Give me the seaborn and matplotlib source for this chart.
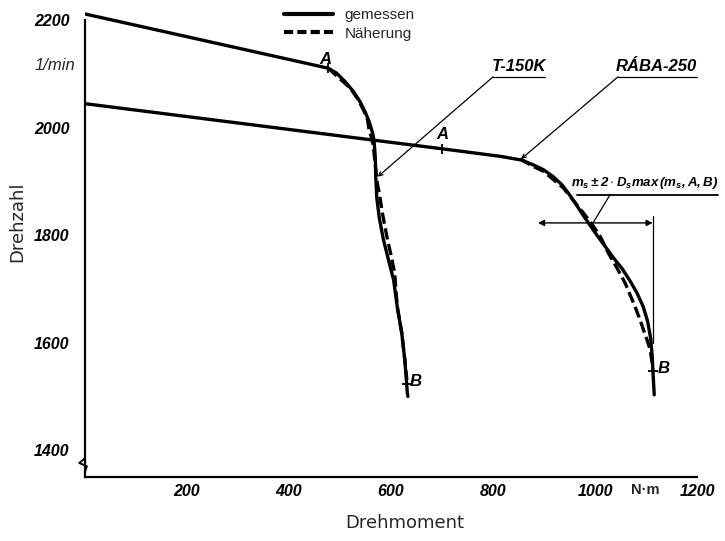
import numpy as np
import pandas as pd
import seaborn as sns
import matplotlib
matplotlib.use("Agg")
import matplotlib.pyplot as plt
from matplotlib.lines import Line2D
from matplotlib.font_manager import FontProperties

# ---------------- data ----------------
# T-150K, measured (gemessen)
t150_meas_T = [0, 477, 493, 510, 526, 539, 549, 557, 564, 567, 569, 570, 572, 577,
               585, 595, 605, 612, 621, 627, 632, 633]
t150_meas_N = [2212, 2111, 2102, 2086, 2068, 2049, 2030, 2012, 1990, 1972, 1947, 1910, 1870, 1832,
               1792, 1754, 1717, 1668, 1618, 1568, 1506, 1500]
# T-150K, approximation (Näherung)
t150_appr_T = [477, 520, 536, 546, 554, 557, 561, 565, 573, 577, 582, 588, 593, 599, 607,
               612, 621, 627, 631]
t150_appr_N = [2111, 2074, 2052, 2033, 2015, 1996, 1984, 1968, 1897, 1878, 1847, 1816, 1792,
               1767, 1730, 1668, 1618, 1568, 1531]
# RABA-250, measured (gemessen)
raba_meas_T = [0, 700, 814, 856, 879, 899, 918, 935, 948, 961, 974, 987, 1003, 1020, 1036,
               1053, 1068, 1082, 1094, 1103, 1109, 1112, 1114, 1116]
raba_meas_N = [2045, 1961, 1947, 1940, 1931, 1922, 1909, 1894, 1878, 1860, 1841, 1823, 1801,
               1779, 1758, 1738, 1716, 1693, 1668, 1640, 1608, 1575, 1537, 1503]
# RABA-250, approximation (Näherung)
raba_appr_T = [853, 879, 899, 938, 964, 980, 990, 1010, 1026, 1043, 1059, 1070, 1078, 1088,
               1096, 1103, 1108, 1112, 1113]
raba_appr_N = [1942, 1928, 1919, 1888, 1857, 1838, 1826, 1798, 1767, 1739, 1711, 1686, 1668,
               1643, 1621, 1602, 1587, 1562, 1550]

x_ticks = [200, 400, 600, 800, 1000, 1200]
y_ticks = [1400, 1600, 1800, 2000, 2200]
legend_labels = ["gemessen", "Näherung"]
point_A = {"T-150K": (477, 2111), "RÁBA-250": (700, 1961)}
point_B = {"T-150K": (631, 1524), "RÁBA-250": (1113, 1548)}

# ---------------- style ----------------
sns.set_style("white")
plt.rcParams["font.family"] = ["DejaVu Sans"]
plt.rcParams["mathtext.fontset"] = "custom"
plt.rcParams["mathtext.rm"] = "Liberation Sans:italic:bold"
plt.rcParams["mathtext.it"] = "Liberation Sans:italic:bold"

fig = plt.figure(figsize=(7.25, 5.41), dpi=100)
ax = fig.add_axes([85 / 725, (541 - 477) / 541, 633 / 725, 477 / 541])

LW = 2.4
dash = (3.4, 1.4)

def frame(T, N):
    return pd.DataFrame({"T": T, "N": N})

for T, N in [(t150_meas_T, t150_meas_N), (raba_meas_T, raba_meas_N)]:
    sns.lineplot(data=frame(T, N), x="T", y="N", ax=ax, color="black", lw=LW,
                 sort=False, estimator=None)
    ax.lines[-1].set_solid_joinstyle("round")
for T, N in [(t150_appr_T, t150_appr_N), (raba_appr_T, raba_appr_N)]:
    sns.lineplot(data=frame(T, N), x="T", y="N", ax=ax, color="black",
                 lw=LW, sort=False, estimator=None)
    ax.lines[-1].set_dashes(dash)

# axes
ax.set_xlim(0, 1241)
ax.set_ylim(1350, 2238)
sns.despine(ax=ax, top=True, right=True)
ax.spines["left"].set_bounds(1350, 2200)
ax.spines["bottom"].set_bounds(0, 1200)
for s in ("left", "bottom"):
    ax.spines[s].set_linewidth(1.6)
    ax.spines[s].set_color("black")
ax.set_xticks(x_ticks)
ax.set_yticks(y_ticks)
ax.set_xticklabels([str(v) for v in x_ticks])
ax.set_yticklabels([str(v) for v in y_ticks])
tickfont = FontProperties(family="Liberation Sans", weight="bold", style="italic", size=11.5)
for lab in ax.get_xticklabels() + ax.get_yticklabels():
    lab.set_fontproperties(tickfont)
ax.tick_params(axis="x", direction="inout", length=6, width=1.2, pad=2, colors="black")
ax.tick_params(axis="y", direction="out", length=5, width=1.2, pad=6, colors="black")

ax.set_xlabel("Drehmoment", fontsize=13)
ax.set_ylabel("Drehzahl", fontsize=13)
ax.xaxis.set_label_coords((405 - 85) / 633, -0.078)
ax.yaxis.set_label_coords(-0.093, 0.535)

# axis break squiggle
yt = ax.get_yaxis_transform()
ax.plot([0, -0.009, 0.003, 0.0], [1385, 1376, 1370, 1360], color="black", lw=1.4,
        transform=yt, clip_on=False)

# units
fig.text(55 / 725, 1 - 66 / 541, "1/min", fontsize=12, ha="center", va="center",
         family="Liberation Sans", style="italic")
ax.text(1098, -0.028, "N·m", transform=ax.get_xaxis_transform(), ha="center", va="center",
        fontsize=10.5, family="Liberation Sans", weight="bold")

# legend
handles = [Line2D([], [], color="black", lw=3),
           Line2D([], [], color="black", lw=3, dashes=(2.2, 1.0))]
ax.legend(handles, legend_labels, loc="upper left", bbox_to_anchor=(0.293, 1.012),
          frameon=False, handlelength=3.2, prop=FontProperties(family="Liberation Sans", size=11),
          labelspacing=0.3, handletextpad=0.75)

# A / B marks
lab = dict(family="Liberation Sans", weight="bold", style="italic", size=12, color="black")
for name, (T, N) in point_A.items():
    ax.plot([T], [N], marker="|", ms=7, mew=1.3, color="black")
ax.text(472, 2128, "A", ha="center", va="center", **lab)
ax.text(700, 1988, "A", ha="center", va="center", **lab)
for name, (T, N) in point_B.items():
    ax.plot([T], [N], marker="_", ms=7, mew=1.3, color="black")
ax.text(648, 1527, "B", ha="center", va="center", **lab)
ax.text(1135, 1552, "B", ha="center", va="center", **lab)

# T-150K label
thin = dict(color="black", lw=0.9)
ax.text(851, 2101, "T-150K", ha="center", va="bottom", **lab)
ax.plot([800, 902], [2095, 2095], clip_on=False, **thin)
ax.annotate("", xy=(574, 1909), xytext=(800, 2095),
            arrowprops=dict(arrowstyle="->", lw=0.9, color="black", mutation_scale=7,
                            shrinkA=0, shrinkB=0))
# RABA-250 label
ax.text(1121, 2101, "RÁBA-250", ha="center", va="bottom", **lab)
ax.plot([1045, 1200], [2095, 2095], clip_on=False, **thin)
ax.annotate("", xy=(855, 1942), xytext=(1045, 2095),
            arrowprops=dict(arrowstyle="->", lw=0.9, color="black", mutation_scale=7,
                            shrinkA=0, shrinkB=0))
# m_s +- 2 D_s max annotation
ax.text(1098, 1882, r"$m_s\pm2\cdot D_s max\,(m_s,A,B)$", ha="center", va="bottom",
        fontsize=9.5, color="black")
ax.plot([965, 1241], [1875, 1875], clip_on=False, color="black", lw=1.3)
ax.plot([1029, 996], [1875, 1823], **thin)
ax.annotate("", xy=(888, 1823), xytext=(1113, 1823),
            arrowprops=dict(arrowstyle="<|-|>", lw=1.0, color="black", mutation_scale=9,
                            shrinkA=0, shrinkB=0))
ax.plot([1113, 1113], [1836, 1600], **thin)

fig.savefig("out.png", dpi=100)
